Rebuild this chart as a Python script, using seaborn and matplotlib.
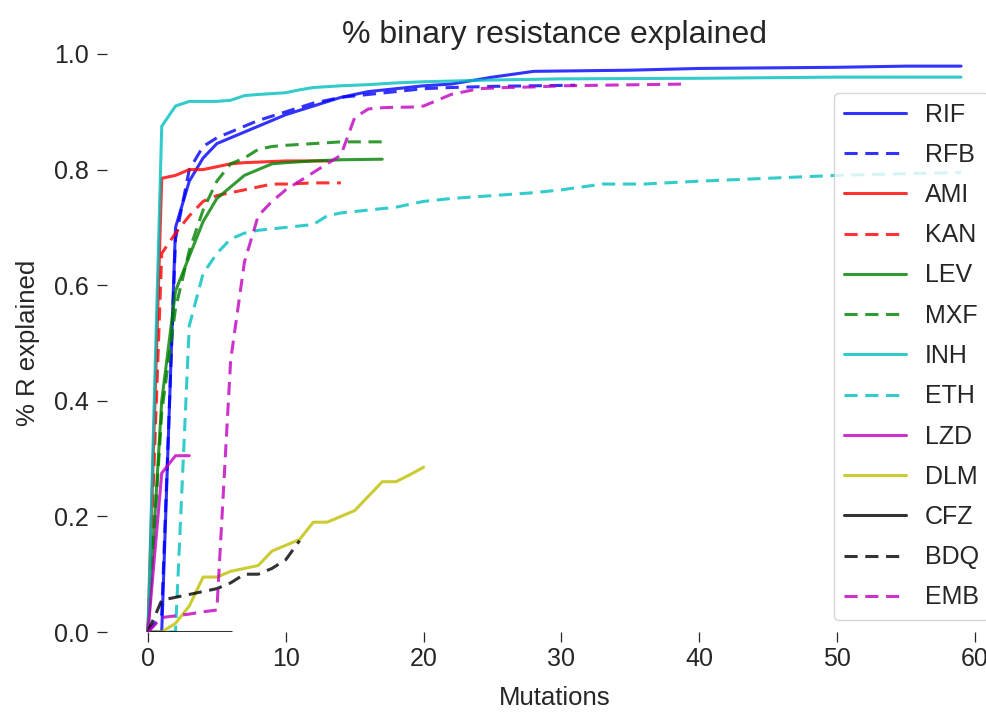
import matplotlib
matplotlib.use("Agg")
import matplotlib.pyplot as plt
import seaborn as sns

# cumulative fraction of binary resistance explained, per drug
rif_x = [0, 1, 2, 3, 4, 5, 6, 7, 8, 10, 12, 14, 16, 18, 20, 22, 25, 28, 35, 40, 50, 55, 59]
rif_y = [0, 0, 0.70, 0.78, 0.82, 0.845, 0.855, 0.865, 0.875, 0.895, 0.91, 0.925, 0.935, 0.94,
         0.945, 0.948, 0.96, 0.97, 0.972, 0.975, 0.977, 0.979, 0.979]

rfb_x = [0, 1, 2, 3, 4, 5, 6, 7, 8, 10, 12, 14, 16, 18, 20, 22, 25, 28, 31]
rfb_y = [0, 0.03, 0.68, 0.80, 0.84, 0.855, 0.865, 0.875, 0.885, 0.90, 0.915, 0.925, 0.93,
         0.935, 0.94, 0.942, 0.944, 0.945, 0.946]

ami_x = [0, 1, 2, 3, 4, 5, 6, 7, 8, 10, 12, 13]
ami_y = [0, 0.785, 0.79, 0.80, 0.80, 0.805, 0.81, 0.812, 0.813, 0.815, 0.815, 0.815]

kan_x = [0, 1, 2, 3, 4, 5, 6, 7, 8, 9, 10, 12, 14]
kan_y = [0, 0.655, 0.69, 0.72, 0.745, 0.755, 0.76, 0.765, 0.77, 0.775, 0.775, 0.777, 0.777]

lev_x = [0, 1, 2, 3, 4, 5, 6, 7, 8, 9, 10, 12, 14, 17]
lev_y = [0, 0.40, 0.59, 0.65, 0.71, 0.75, 0.77, 0.79, 0.80, 0.81, 0.812, 0.815, 0.817, 0.818]

mxf_x = [0, 1, 2, 3, 4, 5, 6, 7, 8, 9, 10, 12, 14, 17]
mxf_y = [0, 0.38, 0.56, 0.66, 0.73, 0.78, 0.81, 0.82, 0.835, 0.84, 0.842, 0.845, 0.848, 0.848]

inh_x = [0, 1, 2, 3, 4, 5, 6, 7, 8, 10, 11, 12, 14, 16, 18, 20, 25, 30, 40, 50, 59]
inh_y = [0, 0.875, 0.91, 0.918, 0.918, 0.918, 0.92, 0.928, 0.93, 0.933, 0.938, 0.942, 0.945,
         0.947, 0.95, 0.952, 0.955, 0.957, 0.958, 0.96, 0.96]

eth_x = [0, 1, 2, 3, 4, 5, 6, 7, 8, 10, 12, 13, 14, 16, 18, 20, 22, 25, 28, 30, 33, 36, 40,
         45, 50, 55, 59]
eth_y = [0, 0, 0, 0.53, 0.62, 0.655, 0.68, 0.69, 0.695, 0.70, 0.705, 0.72, 0.725, 0.73, 0.735,
         0.745, 0.75, 0.755, 0.76, 0.765, 0.775, 0.775, 0.78, 0.785, 0.79, 0.793, 0.795]

lzd_x = [0, 1, 2, 3]
lzd_y = [0, 0.275, 0.305, 0.305]

dlm_x = [0, 1, 2, 3, 4, 5, 6, 7, 8, 9, 10, 11, 12, 13, 14, 15, 16, 17, 18, 19, 20]
dlm_y = [0, 0, 0.015, 0.045, 0.095, 0.095, 0.105, 0.11, 0.115, 0.14, 0.15, 0.16, 0.19, 0.19,
         0.20, 0.21, 0.235, 0.26, 0.26, 0.272, 0.285]

cfz_x = [0, 1, 2, 3, 4, 5, 6]
cfz_y = [0, 0, 0, 0, 0, 0, 0]

bdq_x = [0, 1, 2, 3, 4, 5, 6, 7, 8, 9, 10, 11]
bdq_y = [0, 0.055, 0.06, 0.065, 0.07, 0.075, 0.085, 0.10, 0.10, 0.11, 0.125, 0.158]

emb_x = [0, 1, 2, 3, 4, 5, 6, 7, 8, 9, 10, 11, 12, 13, 14, 15, 16, 17, 18, 19, 20, 21, 22, 23,
         24, 26, 28, 30, 33, 36, 39]
emb_y = [0, 0.025, 0.028, 0.031, 0.035, 0.038, 0.47, 0.64, 0.72, 0.745, 0.765, 0.78, 0.795,
         0.81, 0.825, 0.89, 0.905, 0.907, 0.908, 0.908, 0.91, 0.92, 0.93, 0.935, 0.94, 0.942,
         0.943, 0.945, 0.946, 0.947, 0.948]

drugs = ["RIF", "RFB", "AMI", "KAN", "LEV", "MXF", "INH", "ETH", "LZD", "DLM", "CFZ", "BDQ", "EMB"]
xs = [rif_x, rfb_x, ami_x, kan_x, lev_x, mxf_x, inh_x, eth_x, lzd_x, dlm_x, cfz_x, bdq_x, emb_x]
ys = [rif_y, rfb_y, ami_y, kan_y, lev_y, mxf_y, inh_y, eth_y, lzd_y, dlm_y, cfz_y, bdq_y, emb_y]
colors = ["b", "b", "r", "r", "g", "g", "c", "c", "m", "y", "k", "k", "m"]
dashed = [False, True, False, True, False, True, False, True, False, False, False, True, True]

sns.set_style("white")
plt.rcParams["font.family"] = ["Liberation Sans", "DejaVu Sans"]
plt.rcParams["xtick.bottom"] = True
plt.rcParams["ytick.left"] = True

fig = plt.figure(figsize=(9.87, 7.12), dpi=100)
ax = fig.add_axes([107.3 / 987, 80 / 712, 894.4 / 987, 578 / 712])

for name, x, y, c, d in zip(drugs, xs, ys, colors, dashed):
    ls = (0, (4.3, 2.5)) if d else "-"
    sns.lineplot(x=x, y=y, color=c, linestyle=ls, linewidth=2.2, alpha=0.8,
                 label=name, ax=ax, sort=False, estimator=None)

ax.set_xlim(-2.95, 61.95)
ax.set_ylim(0, 1.0)
ax.set_xticks([0, 10, 20, 30, 40, 50, 60])
ax.set_yticks([0.0, 0.2, 0.4, 0.6, 0.8, 1.0])
ax.set_yticklabels(["0.0", "0.2", "0.4", "0.6", "0.8", "1.0"])
ax.tick_params(axis="both", direction="out", length=7, width=0.9, colors=".15", labelsize=18)
ax.tick_params(axis="y", pad=6)
sns.despine(ax=ax, left=True, bottom=True)

ax.set_title("% binary resistance explained", fontsize=23, color=".15", pad=8)
ax.set_xlabel("Mutations", fontsize=18.5, color=".15", labelpad=11)
ax.set_ylabel("% R explained", fontsize=18.5, color=".15", labelpad=10)

ax.legend(loc="lower right", fontsize=18, frameon=True, labelspacing=0.65,
          handlelength=2.5, handletextpad=0.75, edgecolor="0.8", framealpha=0.8)

fig.savefig("out.png", dpi=100)
